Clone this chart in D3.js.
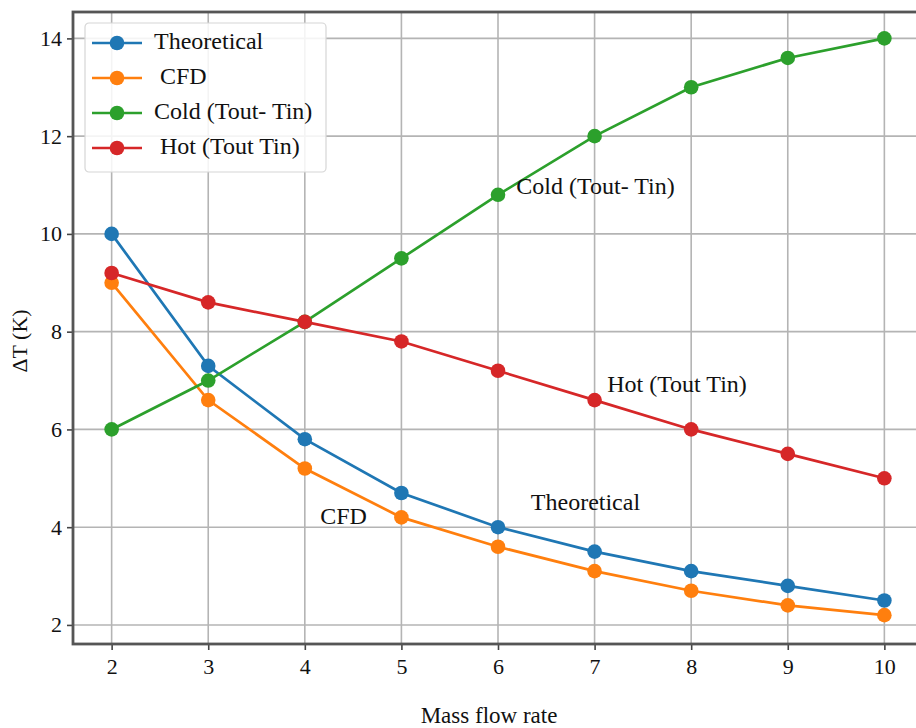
<!DOCTYPE html>
<html>
<head>
<meta charset="utf-8">
<script src="https://cdn.jsdelivr.net/npm/d3@7"></script>
<style>
  html, body { margin: 0; padding: 0; background: #fff; }
  svg text { font-family: "Liberation Serif", "Times New Roman", serif; fill: #111; }
</style>
</head>
<body>
<svg id="chart" width="916" height="728"></svg>
<script>
// Mass flow rate on the x axis
const flowRates = [2, 3, 4, 5, 6, 7, 8, 9, 10];

// Temperature differences (K) for each series
const theoretical = [10.0, 7.3, 5.8, 4.7, 4.0, 3.5, 3.1, 2.8, 2.5];
const cfd         = [9.0, 6.6, 5.2, 4.2, 3.6, 3.1, 2.7, 2.4, 2.2];
const cold        = [6.0, 7.0, 8.2, 9.5, 10.8, 12.0, 13.0, 13.6, 14.0];
const hot         = [9.2, 8.6, 8.2, 7.8, 7.2, 6.6, 6.0, 5.5, 5.0];

const xTicks = [2, 3, 4, 5, 6, 7, 8, 9, 10];
const yTicks = [2, 4, 6, 8, 10, 12, 14];

const seriesNames  = ["Theoretical", " CFD", "Cold (Tout- Tin)", " Hot (Tout Tin)"];
const seriesColors = ["#1f77b4", "#ff7f0e", "#2ca02c", "#d62728"];
const seriesValues = [theoretical, cfd, cold, hot];

// In-plot labels: text, anchor x value, y value
const notes = [
  { text: "Cold (Tout- Tin)", x: 6.19, y: 10.92 },
  { text: "Hot (Tout Tin)",   x: 7.13, y: 6.87 },
  { text: "Theoretical",      x: 6.34, y: 4.47 },
  { text: "CFD",              x: 4.16, y: 4.17 }
];

const svg = d3.select("#chart");
const plot = { left: 73, top: 12, right: 923, bottom: 644 };

const x = d3.scaleLinear().domain([1.6, 10.4]).range([plot.left, plot.right]);
const y = d3.scaleLinear().domain([1.61, 14.54]).range([plot.bottom, plot.top]);

svg.append("defs").append("clipPath").attr("id", "plotClip")
  .append("rect")
  .attr("x", plot.left).attr("y", plot.top)
  .attr("width", plot.right - plot.left).attr("height", plot.bottom - plot.top);

// Grid
const grid = svg.append("g").attr("clip-path", "url(#plotClip)");
grid.selectAll("line.vx").data(xTicks).join("line")
  .attr("x1", d => x(d)).attr("x2", d => x(d))
  .attr("y1", plot.top).attr("y2", plot.bottom)
  .attr("stroke", "#b4b4b4").attr("stroke-width", 1.6);
grid.selectAll("line.hy").data(yTicks).join("line")
  .attr("y1", d => y(d)).attr("y2", d => y(d))
  .attr("x1", plot.left).attr("x2", plot.right)
  .attr("stroke", "#b4b4b4").attr("stroke-width", 1.6);

// Series lines and markers
const lineGen = d3.line().x((d, i) => x(flowRates[i])).y(d => y(d));
const series = svg.append("g").attr("clip-path", "url(#plotClip)");
seriesValues.forEach((vals, k) => {
  const g = series.append("g");
  g.append("path").datum(vals)
    .attr("d", lineGen)
    .attr("fill", "none")
    .attr("stroke", seriesColors[k])
    .attr("stroke-width", 2.7);
  g.selectAll("circle").data(vals).join("circle")
    .attr("cx", (d, i) => x(flowRates[i]))
    .attr("cy", d => y(d))
    .attr("r", 7.3)
    .attr("fill", seriesColors[k]);
});

// Axes
const xAxis = d3.axisBottom(x).tickValues(xTicks).tickSize(6).tickPadding(8);
const yAxis = d3.axisLeft(y).tickValues(yTicks).tickSize(6).tickPadding(5);

const gx = svg.append("g").attr("transform", `translate(0,${plot.bottom})`).call(xAxis);
const gy = svg.append("g").attr("transform", `translate(${plot.left},0)`).call(yAxis);
[gx, gy].forEach(g => {
  g.select(".domain").remove();
  g.selectAll(".tick line").attr("stroke", "#444").attr("stroke-width", 1.6);
  g.selectAll(".tick text")
    .attr("font-family", "Liberation Serif, serif")
    .attr("font-size", 22)
    .attr("fill", "#111");
});

// Frame
svg.append("rect")
  .attr("x", plot.left).attr("y", plot.top)
  .attr("width", plot.right - plot.left).attr("height", plot.bottom - plot.top)
  .attr("fill", "none").attr("stroke", "#555").attr("stroke-width", 2.8);

// In-plot labels
svg.append("g").selectAll("text").data(notes).join("text")
  .attr("x", d => x(d.x)).attr("y", d => y(d.y))
  .attr("font-size", 24)
  .attr("dominant-baseline", "middle")
  .text(d => d.text);

// Legend
const legend = svg.append("g").attr("transform", "translate(85,23)");
legend.append("rect")
  .attr("width", 241).attr("height", 149).attr("rx", 4)
  .attr("fill", "#fff").attr("fill-opacity", 0.85)
  .attr("stroke", "#d6d6d6").attr("stroke-width", 1.2);
const rows = legend.selectAll("g.row").data(seriesNames).join("g")
  .attr("transform", (d, i) => `translate(0,${20 + i * 35})`);
rows.append("line")
  .attr("x1", 7).attr("x2", 57).attr("y1", 0).attr("y2", 0)
  .attr("stroke", (d, i) => seriesColors[i]).attr("stroke-width", 2.7);
rows.append("circle")
  .attr("cx", 32).attr("cy", 0).attr("r", 7.3)
  .attr("fill", (d, i) => seriesColors[i]);
rows.append("text")
  .attr("x", 69).attr("y", 0)
  .attr("dominant-baseline", "middle")
  .attr("font-size", 24)
  .style("white-space", "pre")
  .text(d => d);

// Axis titles
svg.append("text")
  .attr("x", 489).attr("y", 723)
  .attr("text-anchor", "middle")
  .attr("font-size", 23)
  .text("Mass flow rate");
svg.append("text")
  .attr("transform", "translate(22,341) rotate(-90)")
  .attr("text-anchor", "middle")
  .attr("dominant-baseline", "middle")
  .attr("font-size", 22)
  .text("ΔT (K)");
</script>
</body>
</html>
